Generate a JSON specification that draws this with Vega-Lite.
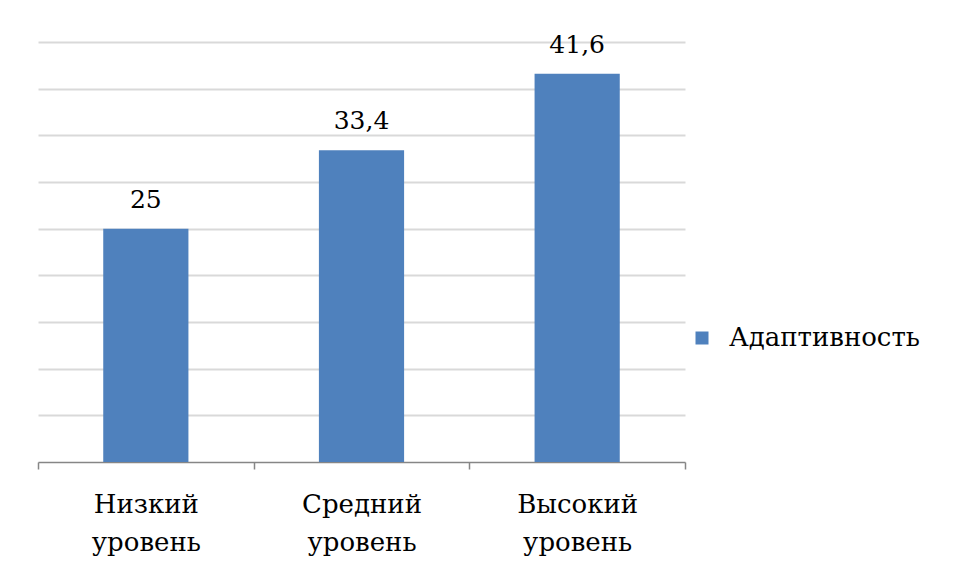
{
  "$schema": "https://vega.github.io/schema/vega-lite/v6.json",
  "width": 647,
  "height": 420,
  "autosize": {"type": "none"},
  "padding": {"left": 38, "top": 42, "right": 271, "bottom": 118},
  "background": "white",
  "data": {
    "values": [
      {"level": "Низкий уровень", "value": 25, "label": "25", "series": "Адаптивность"},
      {"level": "Средний уровень", "value": 33.4, "label": "33,4", "series": "Адаптивность"},
      {"level": "Высокий уровень", "value": 41.6, "label": "41,6", "series": "Адаптивность"}
    ]
  },
  "encoding": {
    "x": {
      "field": "level",
      "type": "nominal",
      "sort": null,
      "scale": {"paddingInner": 0, "paddingOuter": 0},
      "axis": {
        "title": null,
        "labelAngle": 0,
        "labelFont": "DejaVu Serif",
        "labelFontSize": 26,
        "labelColor": "#000000",
        "labelLineHeight": 38,
        "labelExpr": "split(datum.label, ' ')",
        "labelPadding": 22,
        "labelBaseline": "top",
        "domainColor": "#868686",
        "domainWidth": 1.5,
        "tickColor": "#868686",
        "tickWidth": 1.5,
        "tickSize": 7,
        "tickBand": "extent",
        "grid": false
      }
    },
    "y": {
      "field": "value",
      "type": "quantitative",
      "scale": {"domain": [0, 45], "nice": false},
      "axis": {
        "title": null,
        "values": [5, 10, 15, 20, 25, 30, 35, 40, 45],
        "grid": true,
        "gridColor": "#d9d9d9",
        "gridWidth": 2,
        "domain": false,
        "ticks": false,
        "labels": false
      }
    }
  },
  "layer": [
    {
      "mark": {"type": "bar", "width": {"band": 0.395}},
      "encoding": {
        "color": {
          "field": "series",
          "type": "nominal",
          "scale": {"range": ["#4F81BD"]},
          "legend": {
            "title": null,
            "orient": "none",
            "legendX": 651,
            "legendY": 283,
            "symbolType": "square",
            "symbolSize": 169,
            "symbolStrokeWidth": 0,
            "labelFont": "DejaVu Serif",
            "labelFontSize": 26,
            "labelColor": "#000000",
            "labelOffset": 14,
            "labelLimit": 400,
            "padding": 0
          }
        }
      }
    },
    {
      "mark": {
        "type": "text",
        "font": "DejaVu Serif",
        "fontSize": 25,
        "color": "#000000",
        "baseline": "alphabetic",
        "dy": -21
      },
      "encoding": {"text": {"field": "label"}}
    }
  ],
  "config": {"view": {"stroke": null}}
}
